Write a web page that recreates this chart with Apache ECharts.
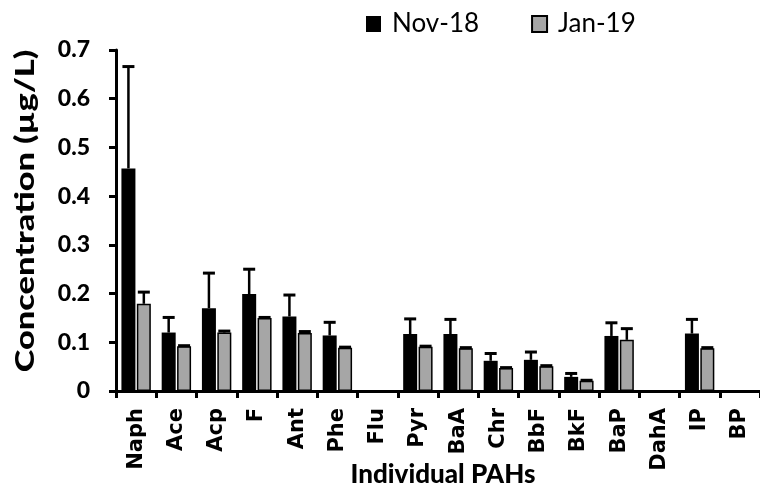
<!DOCTYPE html>
<html>
<head>
<meta charset="utf-8">
<script src="https://cdn.jsdelivr.net/npm/echarts@6/dist/echarts.min.js"></script>
<style>html,body{margin:0;padding:0;background:#fff;}#c{width:760px;height:488px;}</style>
</head>
<body>
<div id="c"></div>
<script>
const categories = ['Naph','Ace','Acp','F','Ant','Phe','Flu','Pyr','BaA','Chr','BbF','BkF','BaP','DahA','IP','BP'];
const nov18 = [0.457,0.120,0.170,0.199,0.153,0.114,0,0.117,0.117,0.062,0.064,0.029,0.113,0,0.118,0];
const nov18Err = [0.666,0.151,0.242,0.250,0.197,0.141,0,0.148,0.147,0.077,0.080,0.036,0.140,0,0.147,0];
const jan19 = [0.179,0.092,0.120,0.150,0.119,0.089,0,0.091,0.088,0.047,0.051,0.021,0.105,0,0.088,0];
const jan19Err = [0.203,0.093,0.123,0.151,0.122,0.090,0,0.092,0.089,0.048,0.052,0.022,0.128,0,0.089,0];
const yTicks = {min:0, max:0.7, interval:0.1};

const FONT = 'Lato';
const chart = echarts.init(document.getElementById('c'));

function errSeries(name, vals, errs, offset) {
  return {
    type: 'custom',
    name: name + ' err',
    z: 3,
    silent: true,
    data: categories.map((c, i) => [i, vals[i], errs[i]]),
    renderItem: function (params, api) {
      const v = api.value(1), e = api.value(2);
      if (!(e > v)) return null;
      const p0 = api.coord([api.value(0), v]);
      const p1 = api.coord([api.value(0), e]);
      const x = p0[0] + offset;
      const half = 6;
      return {
        type: 'group',
        children: [
          {type: 'line', shape: {x1: x, y1: p0[1], x2: x, y2: p1[1]}, style: {stroke: '#000', lineWidth: 2.5}},
          {type: 'line', shape: {x1: x - half, y1: p1[1], x2: x + half, y2: p1[1]}, style: {stroke: '#000', lineWidth: 3}}
        ]
      };
    }
  };
}

chart.setOption({
  animation: false,
  backgroundColor: '#fff',
  textStyle: {fontFamily: FONT},
  legend: {
    left: 361, top: 6,
    itemWidth: 15, itemHeight: 16, itemGap: 52,
    icon: 'rect',
    textStyle: {fontFamily: FONT, fontSize: 26, color: '#000', padding: [0,0,0,6]},
    data: ['Nov-18', 'Jan-19']
  },
  grid: {left: 116, top: 50, width: 651, bottom: 97, containLabel: false},
  xAxis: {
    type: 'category',
    data: categories,
    axisLine: {lineStyle: {color: '#000', width: 3}},
    axisTick: {show: true, length: 7, lineStyle: {color: '#000', width: 3}},
    axisLabel: {rotate: 90, color: '#000', fontFamily: 'DejaVu Sans', fontWeight: 'bold', fontSize: 21, margin: 17, interval: 0}
  },
  yAxis: {
    type: 'value',
    min: yTicks.min, max: yTicks.max, interval: yTicks.interval,
    splitLine: {show: false},
    axisLine: {show: true, lineStyle: {color: '#000', width: 3}},
    axisTick: {show: true, length: 7, lineStyle: {color: '#000', width: 3}},
    axisLabel: {color: '#000', fontFamily: FONT, fontWeight: 900, fontSize: 23, margin: 26}
  },
  graphic: [
    {type: 'text', x: 26, y: 211, rotation: Math.PI / 2, scaleX: 1.32,
     style: {text: 'Concentration (µg/L)', fontFamily: FONT, fontWeight: 900, fontSize: 26, fill: '#000', align: 'center', verticalAlign: 'middle'}},
    {type: 'text', x: 443, y: 475,
     style: {text: 'Individual PAHs', fontFamily: FONT, fontWeight: 900, fontSize: 26, fill: '#000', align: 'center', verticalAlign: 'middle'}}
  ],
  series: [
    {name: 'Nov-18', type: 'bar', data: nov18, barWidth: 14, barGap: '10%',
     itemStyle: {color: '#000'}},
    {name: 'Jan-19', type: 'bar', data: jan19, barWidth: 14, barGap: '10%',
     itemStyle: {color: '#a6a6a6', borderColor: '#000', borderWidth: 1.5}},
    errSeries('Nov-18', nov18, nov18Err, -7.7),
    errSeries('Jan-19', jan19, jan19Err, 7.7)
  ]
});
</script>
</body>
</html>
